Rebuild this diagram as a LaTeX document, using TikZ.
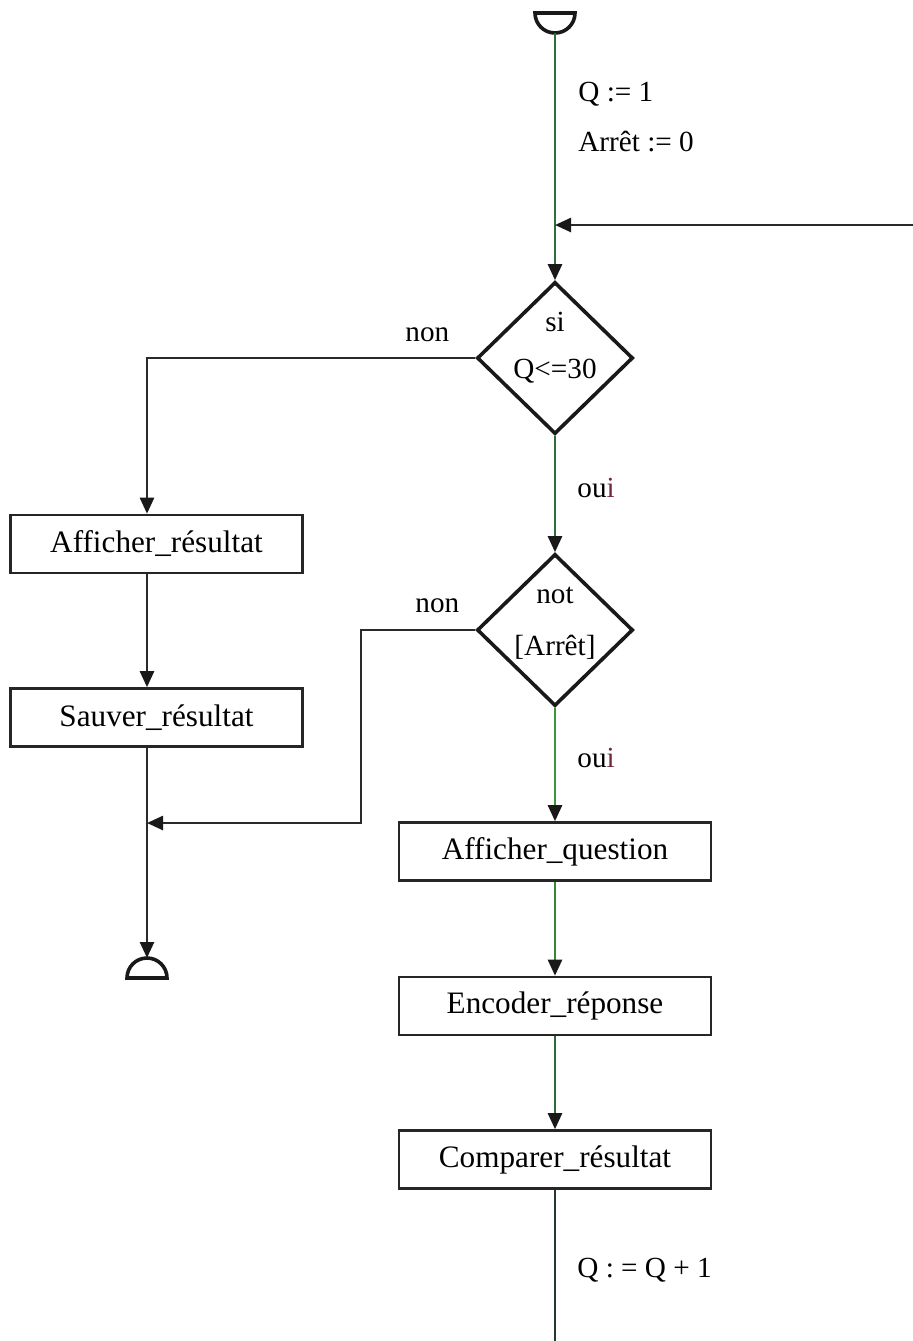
\documentclass[tikz,border=0pt]{standalone}
\usepackage{fontspec}
\setmainfont{Liberation Serif}
\usetikzlibrary{shapes.geometric,arrows.meta}

\definecolor{lineA}{HTML}{2F6E36}
\definecolor{lineB}{HTML}{3C953C}
\definecolor{lineC}{HTML}{2E6A3A}
\definecolor{lineD}{HTML}{243A2C}
\definecolor{ink}{HTML}{2A2A2A}
\definecolor{iDot}{HTML}{6A2A3A}

\begin{document}
\begin{tikzpicture}[x=0.5pt,y=-0.5pt,
  proc/.style={draw=black!85, line width=1.3pt, minimum width=146pt, minimum height=29pt,
               inner sep=0pt, font=\fontsize{15.6}{18}\selectfont},
  test/.style={draw=black!90, line width=1.8pt, shape=diamond, minimum width=78pt,
               minimum height=76pt, inner sep=0pt},
  txt/.style={font=\fontsize{14.6}{17}\selectfont, inner sep=0pt, anchor=base west},
  intxt/.style={font=\fontsize{14.6}{17}\selectfont, inner sep=0pt, anchor=base},
  flow/.style={line width=1.25pt, -{Triangle[width=7pt,length=8pt,color=black!90]}},
  plain/.style={line width=1.25pt},
  term/.style={line width=1.8pt, draw=black!90},
]
\useasboundingbox (0,0) rectangle (913,1341);

% guide columns
\coordinate (lcol) at (147,0);
\coordinate (rcol) at (361,0);

% terminals
\draw[term] (535,13) -- (575,13) arc[start angle=0,end angle=180,radius=20] -- cycle;
\coordinate (start) at (555,33);
\draw[term] (127,978) arc[start angle=180,end angle=360,radius=20] -- cycle;
\coordinate (stop) at (147,958);

% tests
\node[test] (d1) at (555,358) {};
\node[intxt] (d1a) at (555,331) {si};
\node[intxt] (d1b) at (555,378) {Q<=30};
\node[test] (d2) at (555,630) {};
\node[intxt] (d2a) at (555,603) {not};
\node[intxt] (d2b) at (555,655) {[Arrêt]};

% actions
\node[proc] (ar) at (156.5,544) {Afficher\_résultat};
\node[proc] (sr) at (156.5,717.5) {Sauver\_résultat};
\node[proc, minimum width=156pt] (aq) at (555,851.5) {Afficher\_question};
\node[proc, minimum width=156pt] (er) at (555,1006) {Encoder\_réponse};
\node[proc, minimum width=156pt] (cr) at (555,1159.5) {Comparer\_résultat};

% loop back and exit
\coordinate (back) at (913,225);
\coordinate (join) at (555,225);
\coordinate (merge) at (147,823);
\coordinate (exit) at (555,1341);

% main column
\draw[plain, draw=lineA] (start) -- (join);
\draw[flow, draw=lineA] (join) -- (d1.north);
\draw[flow, draw=ink] (back) -- (join);
\draw[flow, draw=lineA] (d1.south) -- (d2.north);
\draw[flow, draw=lineB] (d2.south) -- (aq.north);
\draw[flow, draw=lineB!90!black] (aq.south) -- (er.north);
\draw[flow, draw=lineC] (er.south) -- (cr.north);
\draw[plain, draw=lineD] (cr.south) -- (exit);

% left column
\draw[flow, draw=ink] (d1.west) -- (d1.west -| lcol) -- (ar.north -| lcol);
\draw[flow, draw=ink] (ar.south -| lcol) -- (sr.north -| lcol);
\draw[flow, draw=ink] (sr.south -| lcol) -- (stop);
\draw[flow, draw=ink] (d2.west) -- (d2.west -| rcol) -- (merge -| rcol) -- (merge);

% labels
\node[txt] (init1) at (578,101) {Q := 1};
\node[txt] (init2) at (578,151) {Arrêt := 0};
\node[txt] (no1) at (405,341) {non};
\node[txt] (yes1) at (577,497) {ou{\color{iDot}i}};
\node[txt] (no2) at (415,612) {non};
\node[txt] (yes2) at (577,767) {ou{\color{iDot}i}};
\node[txt] (incr) at (577,1277) {Q : = Q + 1};
\end{tikzpicture}
\end{document}
